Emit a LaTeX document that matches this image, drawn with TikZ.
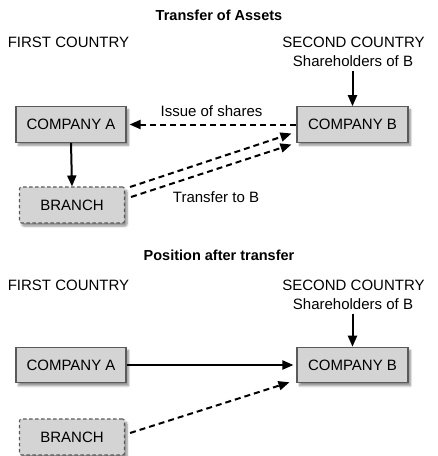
\documentclass[tikz,border=0pt]{standalone}
\usepackage{fontspec}
\setmainfont{Liberation Sans}
\usetikzlibrary{arrows.meta,shadows.blur}
\definecolor{boxfill}{HTML}{D4D4D4}
\definecolor{boxline}{HTML}{5A5A5A}
\tikzset{
  company/.style={draw=boxline, line width=1.1pt, fill=boxfill,
    minimum width=110pt, minimum height=35.5pt, inner sep=0pt,
    font=\fontsize{15}{17}\selectfont,
    blur shadow={shadow xshift=2.5pt, shadow yshift=-3pt, shadow blur steps=6, shadow opacity=45}},
  branchbox/.style={company, dashed, dash pattern=on 3.5pt off 2.5pt, rounded corners=2pt,
    minimum width=105pt, minimum height=36pt},
  label/.style={inner sep=0pt, font=\fontsize{15}{17}\selectfont},
  heading/.style={inner sep=0pt, font=\fontsize{14.5}{17}\selectfont\bfseries},
  flow/.style={line width=2pt, -{Triangle[length=11pt,width=9pt]}},
  dflow/.style={flow, dash pattern=on 6pt off 4pt}
}
\begin{document}
\begin{tikzpicture}[x=1pt,y=-1pt]
  \useasboundingbox (0,0) rectangle (438,456);

  % Upper diagram: the transfer itself
  \node[heading] (t1) at (219,15) {Transfer of Assets};
  \node[label] (fc1) at (68.5,42) {FIRST COUNTRY};
  \node[label] (sc1) at (353.5,42) {SECOND COUNTRY};
  \node[label] (sh1) at (353,61) {Shareholders of B};

  \node[company] (A1) at (71,124.5) {COMPANY A};
  \node[company, minimum width=111pt] (B1) at (352.5,124.5) {COMPANY B};
  \node[branchbox] (Br1) at (72,205) {BRANCH};

  \draw[flow] ([yshift=-4pt]sh1.south -| B1.north) -- (B1.north);
  \draw[dflow, shorten >=3pt] (B1.west) -- (A1.east)
    node[label, midway, above=7pt] (iss) {Issue of shares};
  \draw[flow] (A1.south) -- (Br1.north);
  \draw[dflow] ([shift={(5,-18)}]Br1.east) -- ([shift={(-5,9)}]B1.west);
  \draw[dflow] ([shift={(6,-8)}]Br1.east) -- ([shift={(-5,20)}]B1.west);
  \node[label] (tr) at (216,197) {Transfer to B};

  % Lower diagram: the position afterwards
  \node[heading] (t2) at (219,255) {Position after transfer};
  \node[label] (fc2) at (68.5,285) {FIRST COUNTRY};
  \node[label] (sc2) at (353.5,285) {SECOND COUNTRY};
  \node[label] (sh2) at (353,304) {Shareholders of B};

  \node[company] (A2) at (71,365) {COMPANY A};
  \node[company, minimum width=111pt] (B2) at (352.5,365) {COMPANY B};
  \node[branchbox] (Br2) at (72,437) {BRANCH};

  \draw[flow] ([yshift=-4pt]sh2.south -| B2.north) -- (B2.north);
  \draw[flow, shorten >=3pt] (A2.east) -- (B2.west);
  \draw[dflow] ([shift={(5,-4)}]Br2.east) -- ([shift={(-7,-1)}]B2.south west);
\end{tikzpicture}
\end{document}
